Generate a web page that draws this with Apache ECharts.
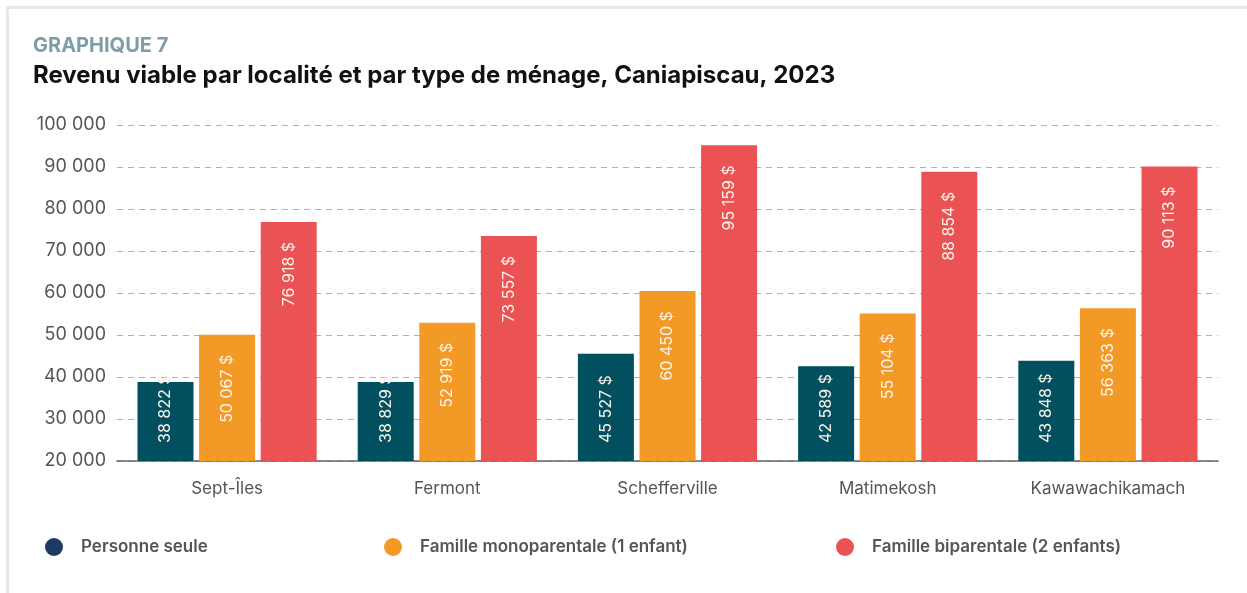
<!DOCTYPE html>
<html>
<head>
<meta charset="utf-8">
<script src="https://cdn.jsdelivr.net/npm/echarts@6/dist/echarts.min.js"></script>
<style>
html, body { margin: 0; padding: 0; background: #fff; overflow: hidden; }
#frame { position: absolute; left: 6px; top: 6px; width: 1300px; height: 700px; border: 3px solid #e4eaec; box-sizing: border-box; }
#chart { position: absolute; left: 0; top: 0; width: 1247px; height: 593px; }
</style>
</head>
<body>
<div id="frame"></div>
<div id="chart"></div>
<script>
// localités
var localites = ['Sept-Îles', 'Fermont', 'Schefferville', 'Matimekosh', 'Kawawachikamach'];
// revenu viable par type de ménage ($)
var personneSeule = [38822, 38829, 45527, 42589, 43848];
var familleMono = [50067, 52919, 60450, 55104, 56363];
var familleBi = [76918, 73557, 95159, 88854, 90113];
// axe vertical
var yMin = 20000, yMax = 100000, yStep = 10000;

var fontFam = 'Inter, "Noto Sans", sans-serif';

function milliers(v) {
	return String(v).replace(/\B(?=(\d{3})+(?!\d))/g, ' ');
}

var myChart = echarts.init(document.getElementById('chart'));

// étiquette verticale dans la barre
function etiquette(pos) {
	return {
		show: true,
		rotate: 90,
		position: pos,
		distance: pos === 'insideBottom' ? 18 : 20,
		align: pos === 'insideBottom' ? 'left' : 'right',
		verticalAlign: 'middle',
		color: '#fbf2e8',
		fontFamily: fontFam,
		fontSize: 16,
		formatter: function(p) {
			return milliers(p.value) + ' $';
		}
	};
}

var option = {
	animation: false,
	title: [{
		text: 'GRAPHIQUE 7',
		left: 28,
		top: 31,
		textStyle: { color: '#7d9ea8', fontSize: 20, fontWeight: 'bold', fontFamily: fontFam }
	}, {
		text: 'Revenu viable par localité et par type de ménage, Caniapiscau, 2023',
		left: 28,
		top: 59,
		textStyle: { color: '#111', fontSize: 24, fontWeight: 'bold', fontFamily: fontFam }
	}],
	legend: [{
		data: [{ name: 'Personne seule', itemStyle: { color: '#1d3a62' } }],
		left: 40, top: 533
	}, {
		data: ['Famille monoparentale (1 enfant)'],
		left: 379, top: 533
	}, {
		data: ['Famille biparentale (2 enfants)'],
		left: 831, top: 533
	}].map(function(l) {
		l.icon = 'circle';
		l.itemWidth = 18;
		l.itemHeight = 18;
		l.textStyle = { color: '#555', fontSize: 17, fontWeight: 600, fontFamily: fontFam, padding: [0, 0, 0, 13] };
		return l;
	}),
	grid: { left: 117, right: 29, top: 125, bottom: 132 },
	xAxis: {
		type: 'category',
		data: localites,
		axisTick: { show: false },
		axisLine: { lineStyle: { color: '#666', width: 1.5 } },
		axisLabel: { color: '#555', fontSize: 17, margin: 19, fontFamily: fontFam }
	},
	yAxis: {
		type: 'value',
		min: yMin,
		max: yMax,
		interval: yStep,
		axisLine: { show: false },
		axisTick: { show: false },
		axisLabel: {
			color: '#555', fontSize: 18, margin: 11, fontFamily: fontFam,
			formatter: milliers
		},
		splitLine: { lineStyle: { color: '#b0b0b0', type: [6, 5], width: 1 } }
	},
	series: [{
		name: 'Personne seule',
		type: 'bar',
		data: personneSeule,
		barWidth: 56,
		barGap: '10%',
		itemStyle: { color: '#024f5f' },
		label: etiquette('insideBottom')
	}, {
		name: 'Famille monoparentale (1 enfant)',
		type: 'bar',
		data: familleMono,
		barWidth: 56,
		barGap: '10%',
		itemStyle: { color: '#f39a26' },
		label: etiquette('insideTop')
	}, {
		name: 'Famille biparentale (2 enfants)',
		type: 'bar',
		data: familleBi,
		barWidth: 56,
		barGap: '10%',
		itemStyle: { color: '#ea5254' },
		label: etiquette('insideTop')
	}]
};
myChart.setOption(option);
</script>
</body>
</html>
